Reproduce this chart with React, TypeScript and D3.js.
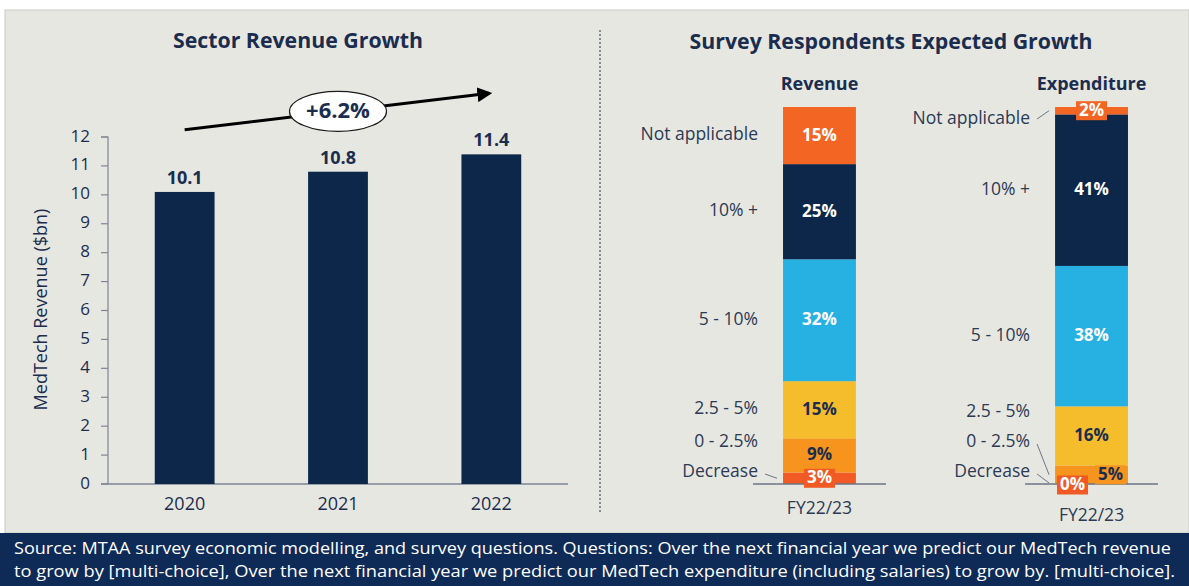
import React from "react";
import * as d3 from "d3";

// ---------- data ----------
const years = ["2020", "2021", "2022"];
const revenueBn = [10.1, 10.8, 11.4];
const yTicks = [0, 1, 2, 3, 4, 5, 6, 7, 8, 9, 10, 11, 12];

const surveyGroups = ["Revenue", "Expenditure"];
const growthCats = ["Decrease", "0 - 2.5%", "2.5 - 5%", "5 - 10%", "10% +", "Not applicable"];
const revenueShares = [3, 9, 15, 32, 25, 15];
const expenditureShares = [0, 5, 16, 38, 41, 2];
const periodLabel = "FY22/23";

const footerLines = [
  "Source: MTAA survey economic modelling, and survey questions. Questions: Over the next financial year we predict our MedTech revenue",
  "to grow by [multi-choice], Over the next financial year we predict our MedTech expenditure (including salaries) to grow by. [multi-choice].",
];

// ---------- styles ----------
const FONT = "'Open Sans', 'Noto Sans', sans-serif";
const NAVY = "#0c2749";
const TEXT = "#1b2d4f";
const LABEL = "#2b3a55";
const catColors = ["#f15a24", "#f7941d", "#f5bd2c", "#27b1e2", "#0c2749", "#f26522"];
const catText = ["#ffffff", TEXT, TEXT, "#ffffff", "#ffffff", "#ffffff"];

export default function App() {
  const W = 1189, H = 586;

  // ----- left chart -----
  const y = d3.scaleLinear().domain([0, 12]).range([484, 137]);
  const x = d3.scaleBand<string>().domain(years).range([108, 568]).paddingInner(0.61).paddingOuter(0.305);
  const cagr = Math.pow(revenueBn[revenueBn.length - 1] / revenueBn[0], 1 / (revenueBn.length - 1)) - 1;
  const ax0 = x(years[0])! + x.bandwidth() / 2;
  const ax1 = x(years[years.length - 1])! + x.bandwidth() / 2;
  const ay0 = y(12.25);
  const ay1 = y(13.52);
  const ang = Math.atan2(ay1 - ay0, ax1 - ax0);
  const mx = (ax0 + ax1) / 2, my = (ay0 + ay1) / 2;

  // ----- right chart -----
  const gx = d3.scaleBand<string>().domain(surveyGroups).range([647, 1264]).paddingInner(0.732).paddingOuter(0.5);
  const sy = d3.scaleLinear().domain([0, 1]).range([484, 107]);
  const rows = [revenueShares, expenditureShares].map((vals, i) => {
    const r: any = { group: surveyGroups[i] };
    growthCats.forEach((c, j) => (r[c] = vals[j]));
    return r;
  });
  const series = d3.stack<any>().keys(growthCats).offset(d3.stackOffsetExpand)(rows);

  const groups = surveyGroups.map((g, gi) => {
    const bx = gx(g)!;
    const bw = gx.bandwidth();
    const segs = series.map((s, ci) => {
      const y0 = sy(s[gi][0]);
      const y1 = sy(s[gi][1]);
      return { ci, cat: growthCats[ci], value: rows[gi][growthCats[ci]], top: y1, bottom: y0, mid: (y0 + y1) / 2, h: y0 - y1 };
    });
    const labelY: number[] = [];
    segs.forEach((s, i) => {
      const limit = i === 0 ? 484 - 12 : labelY[i - 1] - 30;
      labelY[i] = Math.min(s.mid, limit);
    });
    const lastI = segs.length - 1;
    labelY[lastI] = Math.max(labelY[lastI], sy(1) + 12);
    const small = segs.map((s) => s.h < 25);
    const dx = segs.map((s, i) => {
      if (!small[i]) return 0;
      if (i > 0 && small[i - 1]) return 19;
      if (i < segs.length - 1 && small[i + 1]) return -19;
      return 0;
    });
    let lowest = 484;
    segs.forEach((s, i) => {
      if (small[i]) lowest = Math.max(lowest, s.mid + (s.h < 2 ? 1 : 0) + 10);
    });
    return { g, bx, bw, segs, labelY, small, dx, lowest };
  });

  return (
    <svg width={W} height={H} style={{ position: "absolute", left: 0, top: 0, fontFamily: FONT }}>
      <defs>
        <marker id="ah" viewBox="0 0 10 10" refX="8" refY="5" markerWidth="5" markerHeight="5" orient="auto">
          <path d="M0,0 L10,5 L0,10 z" fill="#000" />
        </marker>
      </defs>
      <rect x={0} y={0} width={W} height={H} fill="#ffffff" />
      <rect x={5} y={10} width={W - 5} height={523} fill="#e7e7e2" stroke="#c9c9c5" strokeWidth={1} />
      <rect x={0} y={533} width={W} height={H - 533} fill="#0e2a57" />

      {/* divider */}
      <line x1={600} x2={600} y1={30} y2={512} stroke="#5f6f88" strokeWidth={1.5} strokeDasharray="2,2" />

      {/* ---------- left chart ---------- */}
      <text x={298} y={42} textAnchor="middle" dominantBaseline="middle" fontSize={21.3} fontWeight={700} fill={TEXT}>
        Sector Revenue Growth
      </text>
      <text
        transform={`translate(42,${(y(0) + y(12)) / 2 - 1}) rotate(-90)`}
        textAnchor="middle"
        dominantBaseline="middle"
        fontSize={18}
        fill={TEXT}
      >
        MedTech Revenue ($bn)
      </text>
      {/* y axis */}
      <path d={`M101,${y(12)}H108V${y(0)}`} fill="none" stroke="#7d8696" strokeWidth={1.2} />
      {yTicks.map((t) => (
        <g key={t}>
          <line x1={101} x2={108} y1={y(t)} y2={y(t)} stroke="#7d8696" strokeWidth={1.2} />
          <text x={90} y={y(t)} textAnchor="end" dominantBaseline="middle" fontSize={17} fill={TEXT}>
            {t}
          </text>
        </g>
      ))}
      <line x1={101} x2={568} y1={y(0)} y2={y(0)} stroke="#7d8696" strokeWidth={1.5} />
      {years.map((yr, i) => (
        <g key={yr}>
          <rect x={x(yr)} y={y(revenueBn[i])} width={x.bandwidth()} height={y(0) - y(revenueBn[i])} fill={NAVY} />
          <text
            x={x(yr)! + x.bandwidth() / 2}
            y={y(revenueBn[i]) - 13}
            textAnchor="middle"
            dominantBaseline="middle"
            fontSize={18}
            fontWeight={700}
            fill={TEXT}
          >
            {revenueBn[i].toFixed(1)}
          </text>
          <text x={x(yr)! + x.bandwidth() / 2} y={505} textAnchor="middle" dominantBaseline="middle" fontSize={18} fill={TEXT}>
            {yr}
          </text>
        </g>
      ))}
      {/* growth arrow */}
      <line x1={ax0} y1={ay0} x2={ax1 - 2 * Math.cos(ang)} y2={ay1 - 2 * Math.sin(ang)} stroke="#000" strokeWidth={3} markerEnd="url(#ah)" />
      <ellipse cx={mx} cy={my} rx={48.5} ry={20} fill="#ffffff" stroke="#1b1b1b" strokeWidth={1.2} />
      <text x={mx} y={my + 1} textAnchor="middle" dominantBaseline="middle" fontSize={22} fontWeight={700} fill={TEXT}>
        {`+${(cagr * 100).toFixed(1)}%`}
      </text>

      {/* ---------- right chart ---------- */}
      <text x={891} y={43} textAnchor="middle" dominantBaseline="middle" fontSize={21.3} fontWeight={700} fill={TEXT}>
        Survey Respondents Expected Growth
      </text>
      {groups.map((G) => {
        const cx = G.bx + G.bw / 2;
        return (
          <g key={G.g}>
            <text x={cx} y={85} textAnchor="middle" dominantBaseline="middle" fontSize={18} fontWeight={700} fill={TEXT}>
              {G.g}
            </text>
            {G.segs.map((s) => (
              <rect key={s.cat} x={G.bx} y={s.top} width={G.bw} height={Math.max(0, s.h)} fill={catColors[s.ci]} />
            ))}
            <line x1={G.bx - 30} x2={G.bx + G.bw + 30} y1={484} y2={484} stroke="#6b7585" strokeWidth={1.5} />
            {G.segs.map((s, i) => {
              const ly = G.labelY[i];
              const outside = ly < s.top - 1 || ly > s.bottom + 1 || G.small[i];
              const lx = G.bx - 25;
              return (
                <g key={"l" + s.cat}>
                  <text x={lx} y={ly} textAnchor="end" dominantBaseline="middle" fontSize={17.5} fill={LABEL}>
                    {s.cat}
                  </text>
                  {outside && (
                    <line
                      x1={lx + 7}
                      y1={ly + (s.mid > ly ? 2 : 0)}
                      x2={G.bx - 6}
                      y2={Math.min(483, Math.max(s.mid, ly - 9))}
                      stroke="#6b7585"
                      strokeWidth={1}
                    />
                  )}
                </g>
              );
            })}
            {G.segs.map((s, i) => {
              const vx = cx + G.dx[i];
              const vy = s.mid + (s.h < 2 ? 1 : 0);
              const txt = `${s.value}%`;
              return (
                <g key={"v" + s.cat}>
                  {G.small[i] && <rect x={vx - 15.5} y={vy - 9.5} width={31} height={19} fill={catColors[s.ci]} />}
                  <text x={vx} y={vy + 0.5} textAnchor="middle" dominantBaseline="middle" fontSize={17} fontWeight={700} fill={catText[s.ci]}>
                    {txt}
                  </text>
                </g>
              );
            })}
            <text x={cx} y={G.lowest + 21} textAnchor="middle" dominantBaseline="middle" fontSize={17.5} fill={LABEL}>
              {periodLabel}
            </text>
          </g>
        );
      })}

      {/* footer */}
      {footerLines.map((l, i) => (
        <text
          key={i}
          x={14}
          y={550 + i * 23}
          dominantBaseline="middle"
          fontSize={16}
          fill="#ffffff"
          textLength={i === 0 ? 1157 : 1161}
          lengthAdjust="spacingAndGlyphs"
        >
          {l}
        </text>
      ))}
    </svg>
  );
}
